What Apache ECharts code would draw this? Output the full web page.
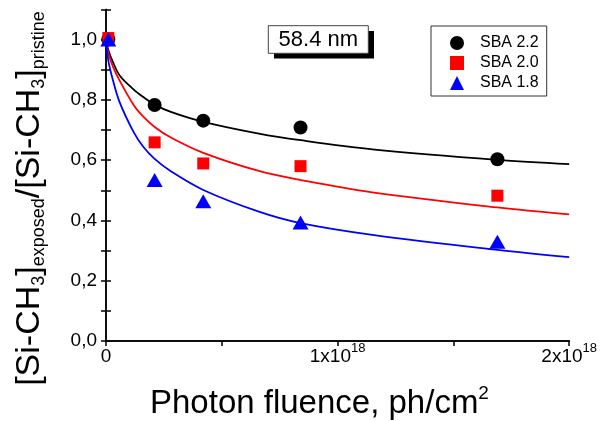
<!DOCTYPE html>
<html><head><meta charset="utf-8">
<script src="https://cdn.jsdelivr.net/npm/echarts@6/dist/echarts.min.js"></script>
<style>html,body{margin:0;padding:0;background:#fff}#c{width:600px;height:421px}</style>
</head><body><div id="c"></div>
<script>
const FONT = '"Liberation Sans", Arial, sans-serif';
const seriesNames = ['SBA 2.2', 'SBA 2.0', 'SBA 1.8'];
const seriesColors = ['#000000', '#ff0000', '#0000ff'];
const seriesSymbols = ['circle', 'rect', 'triangle'];
// measured points
const pointX = [1e16, 2.1e17, 4.2e17, 8.4e17, 1.69e18];
const sba22 = [1.0, 0.783, 0.731, 0.708, 0.603];
const sba20 = [1.005, 0.659, 0.589, 0.580, 0.482];
const sba18 = [1.0, 0.534, 0.464, 0.393, 0.329];
// fitted curves
const fitX = [0, 1e16, 3e16, 6e16, 1.2e17, 1.6e17, 2.1e17, 2.8e17, 4.2e17, 6.6e17, 8.4e17, 1.15e18, 1.69e18, 2e18];
const fit22 = [1.0, 0.965, 0.925, 0.880, 0.834, 0.810, 0.784, 0.760, 0.727, 0.688, 0.666, 0.636, 0.601, 0.587];
const fit20 = [1.0, 0.955, 0.910, 0.862, 0.782, 0.745, 0.710, 0.675, 0.624, 0.564, 0.534, 0.493, 0.443, 0.420];
const fit18 = [1.0, 0.930, 0.865, 0.790, 0.692, 0.645, 0.604, 0.563, 0.501, 0.429, 0.391, 0.352, 0.302, 0.278];
// tick labels
const xLabelValues = [0, 1e18, 2e18];
const xLabelTexts = ['{b|0}', '{b|1x10}{sup|18}', '{b|2x10}{sup|18}'];
const yLabelValues = [0, 0.2, 0.4, 0.6, 0.8, 1.0];
const yLabelTexts = ['0,0', '0,2', '0,4', '0,6', '0,8', '1,0'];
const annotation = '58.4 nm';

const pts = ys => ys.map((y, i) => [pointX[i], y]);
const fit = ys => ys.map((y, i) => [fitX[i], y]);

const chart = echarts.init(document.getElementById('c'), null, {renderer: 'canvas'});
const axisLine = {show: true, lineStyle: {color: '#000', width: 1.5}};
const lineSeries = (name, ys, color) => ({
  name, type: 'line', data: fit(ys), smooth: 0.35, symbol: 'none',
  lineStyle: {color, width: 1.8}, z: 2, silent: true
});
const option = {
  animation: false,
  backgroundColor: '#fff',
  textStyle: {fontFamily: FONT},
  grid: {left: 106, right: 30, top: 9.4, bottom: 80},
  xAxis: [{
    type: 'value', min: 0, max: 2e18, interval: 5e17, position: 'bottom',
    axisLine, splitLine: {show: false},
    axisTick: {show: true, inside: false, length: 5, lineStyle: {color: '#000', width: 1.5}},
    axisLabel: {
      margin: 1, color: '#000', fontFamily: FONT,
      formatter: v => { const i = xLabelValues.indexOf(v); return i >= 0 ? xLabelTexts[i] : ''; },
      rich: {
        b: {fontSize: 19, fontFamily: FONT, color: '#000', padding: [5, 0, 0, 0], verticalAlign: 'bottom'},
        sup: {fontSize: 13, fontFamily: FONT, color: '#000', verticalAlign: 'top'}
      }
    }
  }, {
    type: 'value', min: 0, max: 2e18, position: 'top',
    axisLine, axisTick: {show: false}, axisLabel: {show: false}, splitLine: {show: false}
  }],
  yAxis: [{
    type: 'value', min: 0, max: 1.1, interval: 0.1, position: 'left',
    axisLine, splitLine: {show: false},
    axisTick: {show: true, inside: true, length: 5, lineStyle: {color: '#000', width: 1.5}},
    axisLabel: {
      margin: 9, color: '#000', fontSize: 19, fontFamily: FONT,
      formatter: v => { const i = yLabelValues.findIndex(t => Math.abs(t - v) < 1e-6); return i >= 0 ? yLabelTexts[i] : ''; }
    }
  }, {
    type: 'value', min: 0, max: 1.1, interval: 0.1, position: 'right',
    axisLine, splitLine: {show: false}, axisLabel: {show: false},
    axisTick: {show: true, inside: true, length: 5, lineStyle: {color: '#000', width: 1.5}}
  }],
  legend: {
    data: seriesNames, orient: 'vertical', left: 431, top: 26,
    padding: [9, 8, 5, 19], itemGap: 4, itemWidth: 14, itemHeight: 14,
    borderColor: '#333', borderWidth: 1, backgroundColor: '#fff',
    textStyle: {fontSize: 16, color: '#000', fontFamily: FONT, padding: [0, 0, 0, 11]}
  },
  series: [
    lineSeries('fit 2.2', fit22, seriesColors[0]),
    lineSeries('fit 2.0', fit20, seriesColors[1]),
    lineSeries('fit 1.8', fit18, seriesColors[2]),
    {name: seriesNames[0], type: 'scatter', data: pts(sba22), symbol: seriesSymbols[0], symbolSize: 14, itemStyle: {color: seriesColors[0], opacity: 1}, z: 3},
    {name: seriesNames[1], type: 'scatter', data: pts(sba20), symbol: seriesSymbols[1], symbolSize: 12, itemStyle: {color: seriesColors[1], opacity: 1}, z: 3},
    {name: seriesNames[2], type: 'scatter', data: pts(sba18), symbol: seriesSymbols[2], symbolSize: [16, 14], itemStyle: {color: seriesColors[2], opacity: 1}, z: 3}
  ],
  graphic: [
    {type: 'rect', shape: {x: 274, y: 31, width: 100, height: 27.6}, style: {fill: '#000'}, z: 10},
    {type: 'rect', shape: {x: 268.3, y: 25.7, width: 100, height: 27.6}, style: {fill: '#fff', stroke: '#444', lineWidth: 1}, z: 11},
    {type: 'text', x: 318.3, y: 40, z: 12, style: {text: annotation, fontSize: 22, fontFamily: FONT, fill: '#000', align: 'center', verticalAlign: 'middle'}},
    {type: 'text', x: 150, y: 384.5, z: 12, style: {
      text: '{m|Photon fluence, ph/cm}{sup|2}', align: 'left', verticalAlign: 'top',
      rich: {
        m: {fontSize: 33, fontFamily: FONT, fill: '#000', padding: [3, 0, 0, 0], verticalAlign: 'bottom'},
        sup: {fontSize: 19, fontFamily: FONT, fill: '#000', verticalAlign: 'top'}
      }}},
    {type: 'text', x: 30.2, y: 198.5, rotation: Math.PI / 2, z: 12, style: {
      text: '{m|[Si-CH}{s|3}{m|]}{s|exposed}{m|/[Si-CH}{s|3}{m|]}{s|pristine}', align: 'center', verticalAlign: 'middle',
      rich: {
        m: {fontSize: 34, fontFamily: FONT, fill: '#000', padding: [0, 0, 2, 0], verticalAlign: 'bottom'},
        s: {fontSize: 18, fontFamily: FONT, fill: '#000', verticalAlign: 'bottom'}
      }}}
  ]
};
chart.setOption(option);
</script></body></html>
